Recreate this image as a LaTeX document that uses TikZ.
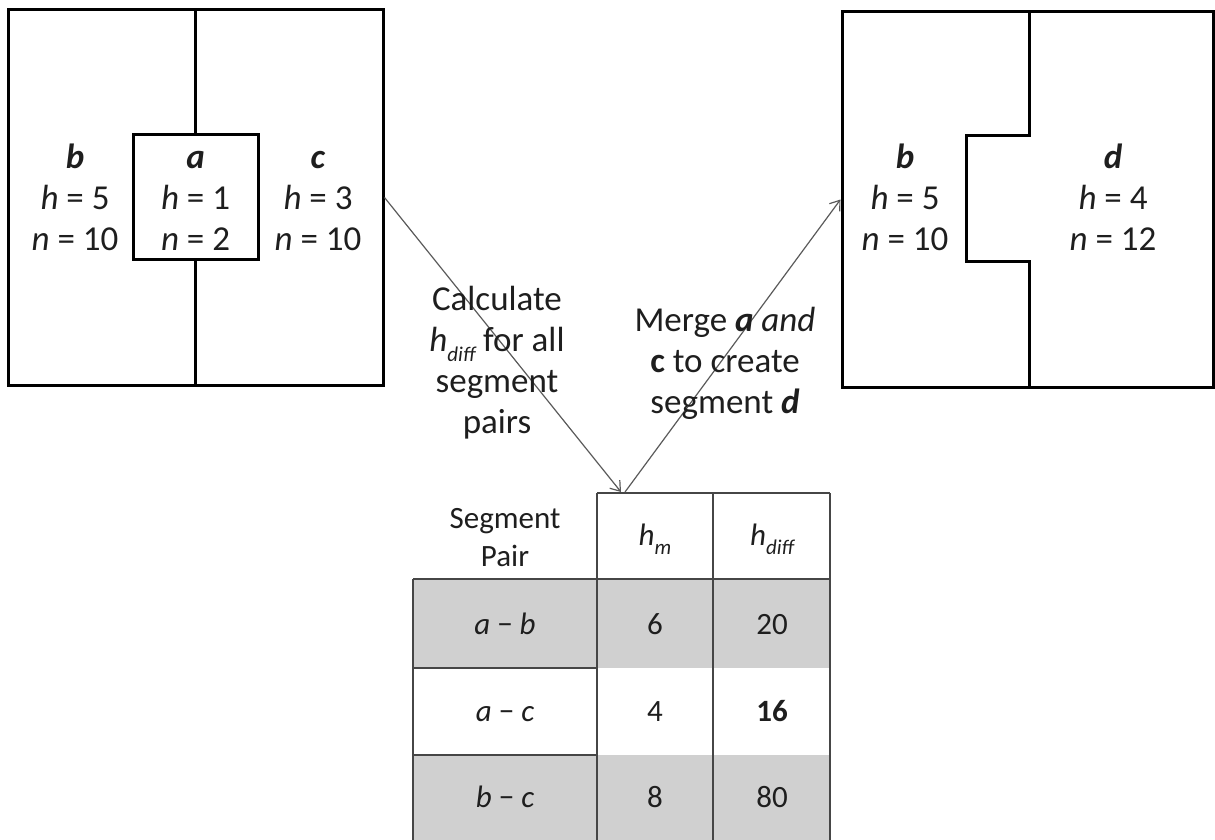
\documentclass[tikz,border=0pt]{standalone}
\usepackage{fontspec}
\setmainfont{Carlito}
\usetikzlibrary{arrows.meta}
\definecolor{cellgray}{RGB}{208,208,208}
\definecolor{gridline}{RGB}{70,70,70}
\definecolor{arrowgray}{RGB}{90,90,90}
\definecolor{txt}{RGB}{30,30,30}
\newcommand{\hsubx}[1]{\textit{h}\raisebox{-0.28em}{\fontsize{21}{21}\selectfont\itshape #1}}
\begin{document}
\begin{tikzpicture}[x=1pt,y=-1pt,
  segbox/.style={draw=black,line width=3pt,inner sep=0pt},
  bigtxt/.style={align=center,text=txt,font=\fontsize{35}{41}\selectfont,inner sep=0pt},
  tabtxt/.style={align=center,text=txt,font=\fontsize{31}{38}\selectfont,inner sep=0pt},
  flowarrow/.style={draw=arrowgray,line width=1.2pt,-{Straight Barb[length=9pt,width=13pt]}},
  gridl/.style={draw=gridline,line width=1.3pt}]
\useasboundingbox (0,0) rectangle (1215,840);
\begin{scope}
\clip (0,0) rectangle (1215,840);
% ---------- left segmentation ----------
\node[segbox,minimum width=375pt,minimum height=375pt] (L) at (195.5,197.5) {};
\node[segbox,minimum width=125pt,minimum height=124pt] (A) at (195.5,197) {};
\draw[line width=3pt] (L.north) -- (A.north);
\draw[line width=3pt] (A.south) -- (L.south);
\node[bigtxt] (tb) at (75,201) {\strut\textbf{\textit{b}}\\\strut\textit{h} = 5\\\strut\textit{n} = 10};
\node[bigtxt] (ta) at (195.5,201) {\strut\textbf{\textit{a}}\\\strut\textit{h} = 1\\\strut\textit{n} = 2};
\node[bigtxt] (tc) at (318,201) {\strut\textbf{\textit{c}}\\\strut\textit{h} = 3\\\strut\textit{n} = 10};
% ---------- right segmentation ----------
\node[segbox,minimum width=371pt,minimum height=375pt] (R) at (1027.5,199.5) {};
\draw[line width=3pt,line join=miter] (1029,12) -- (1029,136) -- (966,136) -- (966,261) -- (1029,261) -- (1029,387);
\node[bigtxt] (tb2) at (905,201) {\strut\textbf{\textit{b}}\\\strut\textit{h} = 5\\\strut\textit{n} = 10};
\node[bigtxt] (td) at (1113,201) {\strut\textbf{\textit{d}}\\\strut\textit{h} = 4\\\strut\textit{n} = 12};
% ---------- table ----------
\fill[cellgray] (413,579) rectangle (830,668);
\fill[cellgray] (413,755) rectangle (830,850);
\draw[gridl] (597,493) -- (830,493);
\draw[gridl] (597,493) -- (597,850);
\draw[gridl] (713,493) -- (713,850);
\draw[gridl] (830,493) -- (830,850);
\draw[gridl] (413,579) -- (413,850);
\draw[gridl] (413,579) -- (830,579);
\draw[gridl] (413,668) -- (597,668);
\draw[gridl] (413,755) -- (597,755);
\node[tabtxt] (hpair) at (505,539.5) {\strut Segment\\\strut Pair};
\node[tabtxt] (hm) at (655,538) {\strut\hsubx{m}};
\node[tabtxt] (hd) at (772,538) {\strut\hsubx{diff}};
\node[tabtxt] (p1) at (505,626.5) {\strut\textit{a} − \textit{b}};
\node[tabtxt] (m1) at (655,626.5) {\strut 6};
\node[tabtxt] (d1) at (772,626.5) {\strut 20};
\node[tabtxt] (p2) at (505,713.5) {\strut\textit{a} − \textit{c}};
\node[tabtxt] (m2) at (655,713.5) {\strut 4};
\node[tabtxt] (d2) at (772,713.5) {\strut\textbf{16}};
\node[tabtxt] (p3) at (505,800) {\strut\textit{b} − \textit{c}};
\node[tabtxt] (m3) at (655,800) {\strut 8};
\node[tabtxt] (d3) at (772,800) {\strut 80};
% ---------- arrows ----------
\coordinate (tip) at (621,492);
\coordinate (start2) at (625,492);
\draw[flowarrow] (L.east) -- (tip);
\draw[flowarrow] (start2) -- (R.west);
\node[bigtxt] (calc) at (497,364) {\strut Calculate\\\strut\hsubx{diff} for all\\\strut segment\\\strut pairs};
\node[bigtxt] (merge) at (725,364) {\strut Merge \textbf{\textit{a}} \textit{and}\\\strut\textbf{c} to create\\\strut segment \textbf{\textit{d}}};
\end{scope}
\end{tikzpicture}
\end{document}
